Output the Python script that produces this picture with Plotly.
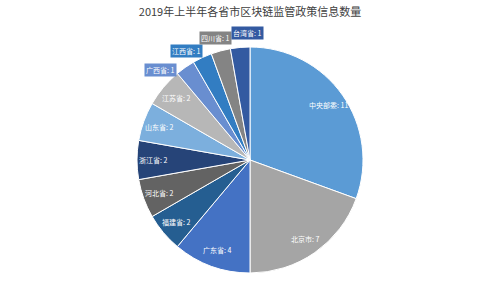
import math
import plotly.graph_objects as go

# ---- data ----
labels = ["中央部委", "北京市", "广东省", "福建省", "河北省", "浙江省",
          "山东省", "江苏省", "广西省", "江西省", "四川省", "台湾省"]
values = [11, 7, 4, 2, 2, 2, 2, 2, 1, 1, 1, 1]
colors = ["#5B9BD5", "#A5A5A5", "#4472C4", "#255E91", "#636363", "#264478",
          "#7CAFDD", "#B7B7B7", "#698ED0", "#327DC2", "#848484", "#335AA1"]
title_text = "2019年上半年各省市区块链监管政策信息数量"

W, H = 500, 300
mt, mb = 47, 27
plot_h = H - mt - mb
cx, cy = W / 2, mt + plot_h / 2
R = min(W, plot_h) / 2

fig = go.Figure(go.Pie(
    labels=labels, values=values, sort=False, direction="clockwise", rotation=0,
    marker=dict(colors=colors, line=dict(color="white", width=1)),
    textinfo="none", showlegend=False,
))

FONT = "Noto Sans CJK SC, Noto Sans, sans-serif"

def to_paper(px, py):
    return px / W, 1 - (py - mt) / plot_h

total = sum(values)
cum = 0
annotations = []
for lab, v, col in zip(labels, values, colors):
    mid = (cum + v / 2) / total * 360.0
    cum += v
    txt = f"{lab}: {v}"
    if v == 1:
        ccw = mid - 360.0
        ang = ccw * 1.45 + 6
        r = 1.12 * R
        px = cx + r * math.sin(math.radians(ang))
        py = cy - r * math.cos(math.radians(ang))
        x, y = to_paper(px, py)
        annotations.append(dict(x=x, y=y, xref="paper", yref="paper", text=txt,
                                showarrow=False, xanchor="center", yanchor="middle",
                                font=dict(family=FONT, size=7, color="white"),
                                bgcolor=col, borderpad=1))
    else:
        r = 0.85 * R
        px = cx + r * math.sin(math.radians(mid))
        py = cy - r * math.cos(math.radians(mid))
        x, y = to_paper(px, py)
        annotations.append(dict(x=x, y=y, xref="paper", yref="paper", text=txt,
                                showarrow=False, xanchor="center", yanchor="middle",
                                font=dict(family=FONT, size=7, color="white")))

fig.update_layout(
    width=W, height=H,
    margin=dict(l=0, r=0, t=mt, b=mb),
    paper_bgcolor="white", plot_bgcolor="white",
    title=dict(text=title_text, x=0.5, xanchor="center", y=1 - 12 / H, yanchor="middle",
               font=dict(family=FONT, size=11, color="#404040")),
    annotations=annotations,
)

fig.write_html("out.html")
